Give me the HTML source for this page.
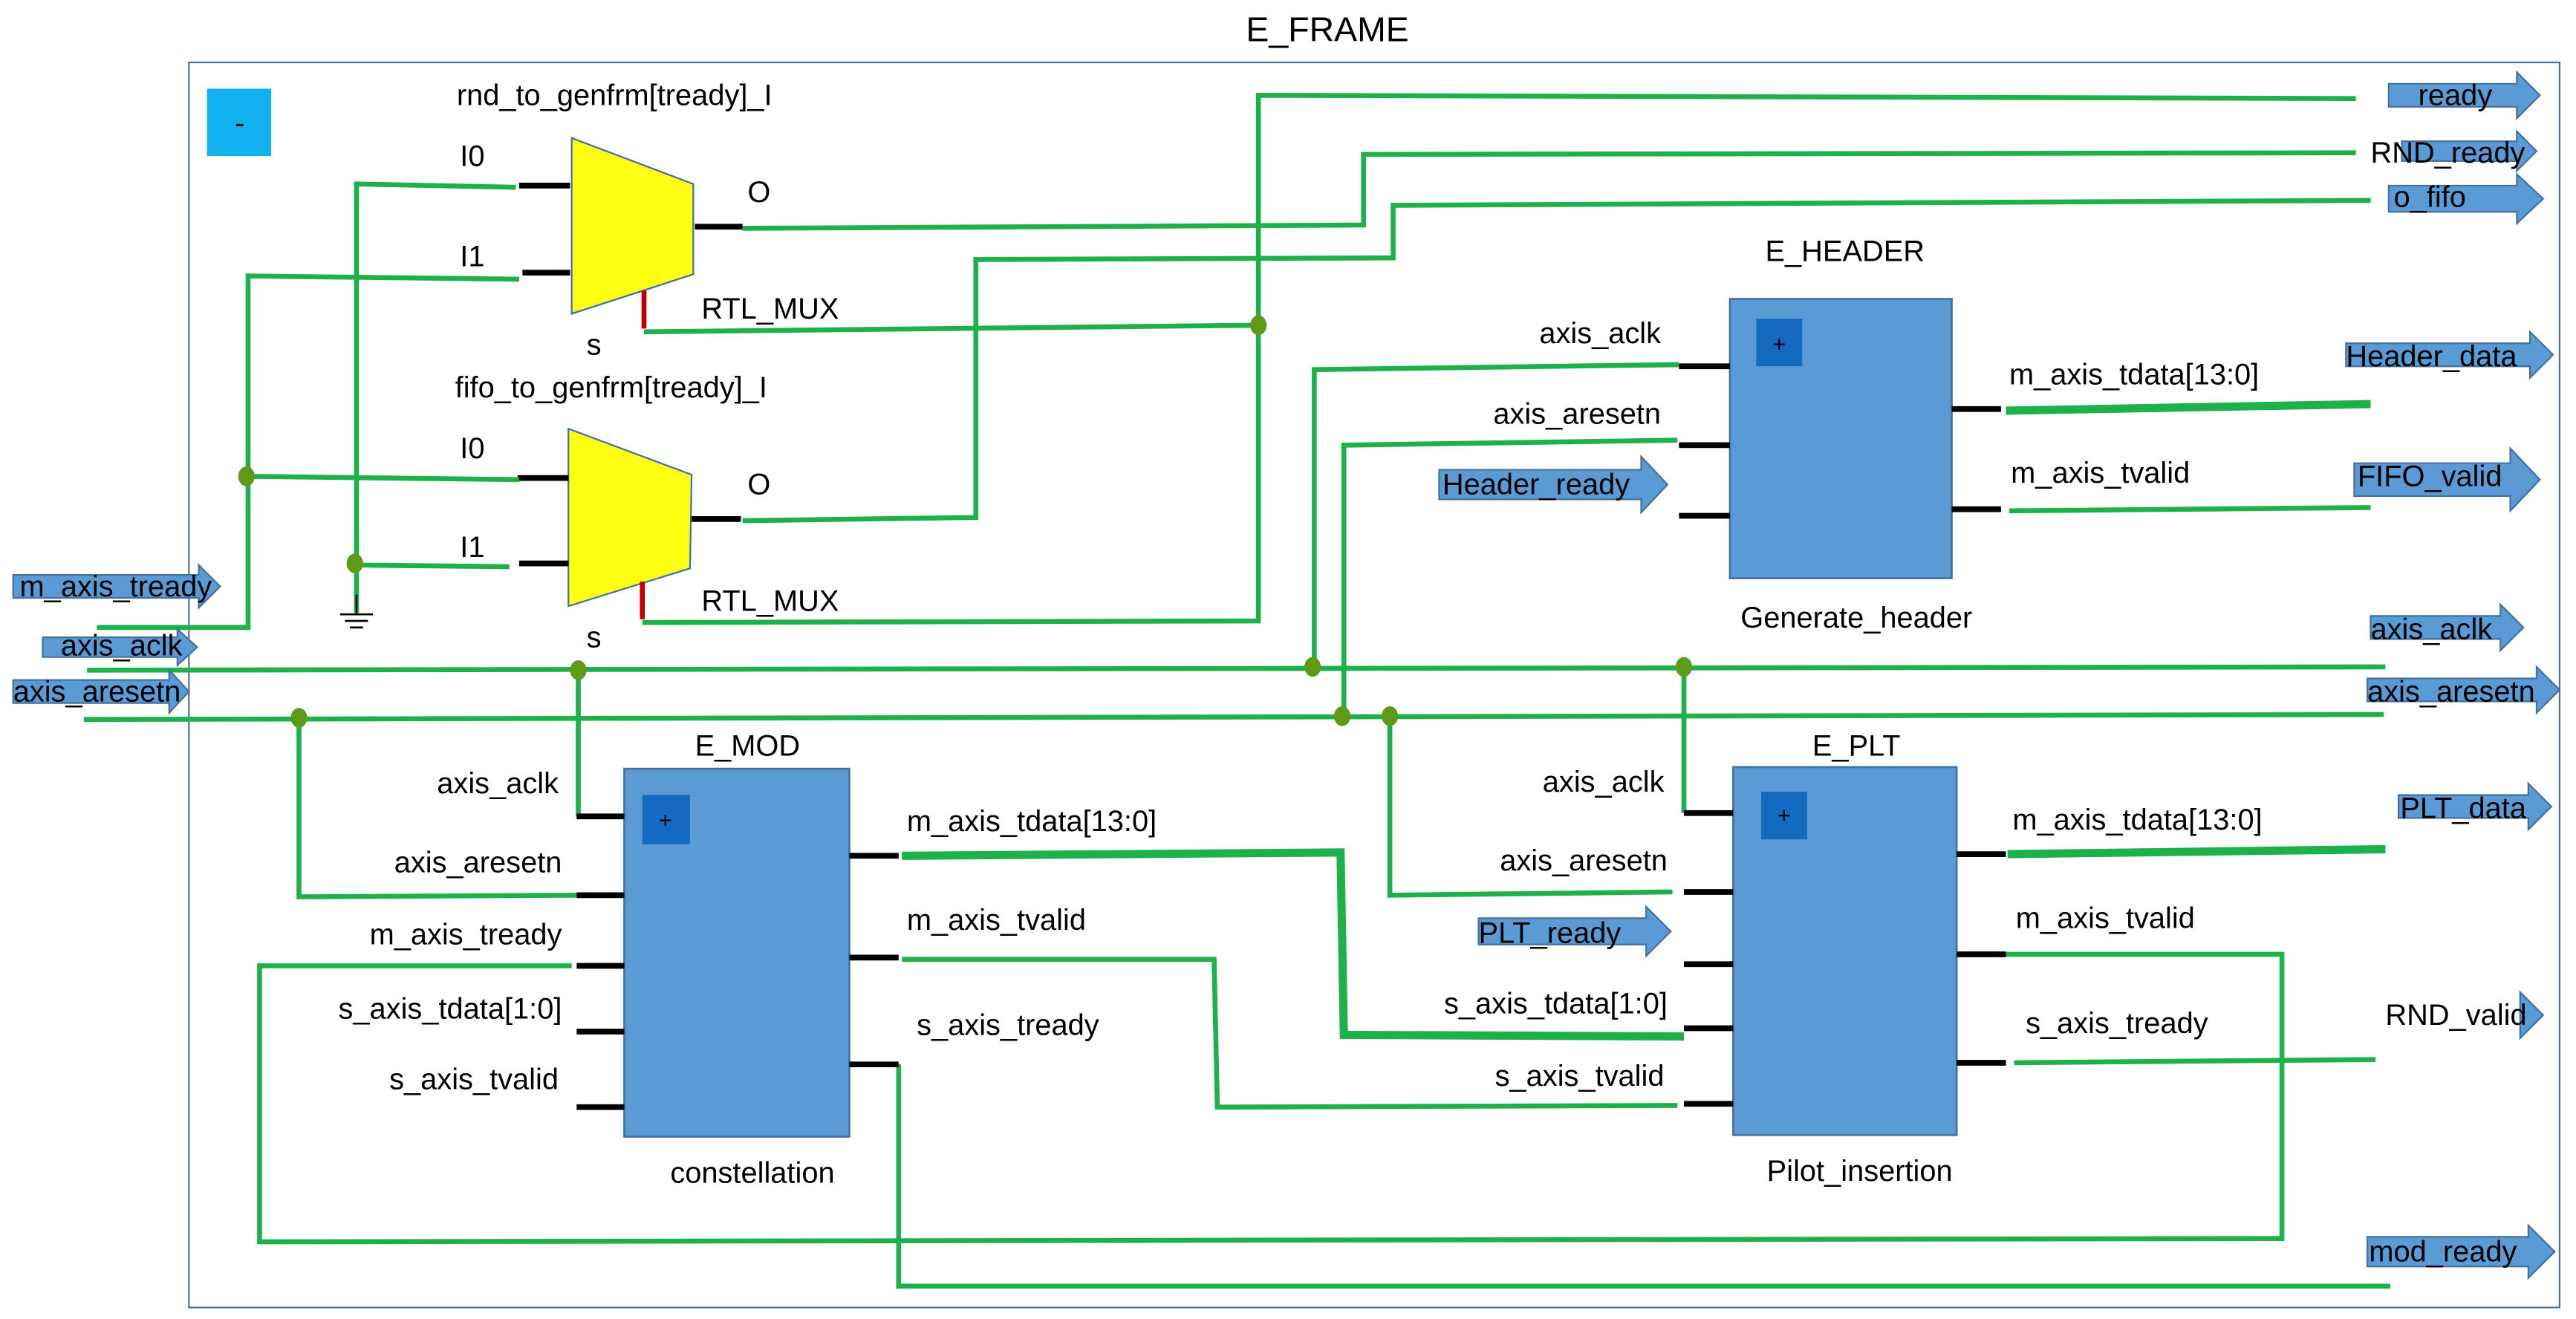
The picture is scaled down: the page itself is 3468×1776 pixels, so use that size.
<!DOCTYPE html>
<html><head><meta charset="utf-8"><style>
html,body{margin:0;padding:0;background:#fff;}
svg{display:block;}
text{font-family:"Liberation Sans Narrow","Liberation Sans",sans-serif;fill:#000;}
</style></head><body>
<svg width="3468" height="1776" viewBox="0 0 1568 803" preserveAspectRatio="none" xmlns="http://www.w3.org/2000/svg">
<rect x="0" y="0" width="1568" height="803" fill="#fff"/>
<text x="808" y="25" font-size="21" text-anchor="middle">E_FRAME</text>
<rect x="115" y="38" width="1443" height="758" fill="none" stroke="#4a72a8" stroke-width="1"/>
<rect x="126" y="54" width="39" height="41" fill="#11b0ee"/>
<text x="146" y="81" font-size="18" text-anchor="middle">-</text>

<!-- muxes -->
<polygon points="348,84 422,112 422,167 348,191" fill="#ffff14" stroke="#3d6fa8" stroke-width="1"/>
<polygon points="346,261 421,289 420,346 346,369" fill="#ffff14" stroke="#3d6fa8" stroke-width="1"/>
<g stroke="#000" stroke-width="3.5">
<line x1="316" y1="113" x2="347" y2="113"/><line x1="318" y1="166" x2="347" y2="166"/><line x1="423" y1="138" x2="452" y2="138"/>
<line x1="315" y1="291" x2="346" y2="291"/><line x1="316" y1="343" x2="346" y2="343"/><line x1="421" y1="316" x2="451" y2="316"/>
</g>
<g stroke="#c00000" stroke-width="3"><line x1="392" y1="177" x2="392" y2="200"/><line x1="391" y1="354" x2="391" y2="377"/></g>
<g font-size="18">
<text x="278" y="64">rnd_to_genfrm[tready]_I</text>
<text x="280" y="101">I0</text><text x="455" y="123">O</text><text x="280" y="162">I1</text>
<text x="427" y="194">RTL_MUX</text><text x="357" y="216">s</text>
<text x="277" y="242">fifo_to_genfrm[tready]_I</text>
<text x="280" y="279">I0</text><text x="455" y="301">O</text><text x="280" y="339">I1</text>
<text x="427" y="372">RTL_MUX</text><text x="357" y="394">s</text>
</g>

<!-- green wires -->
<g fill="none" stroke="#1db14b" stroke-width="3" stroke-linejoin="miter">
<polyline points="314,114 217,112 217,373"/>
<line x1="217" y1="344" x2="310" y2="345"/>
<polyline points="316,170 151,168 151,382 59,382"/>
<line x1="151" y1="290" x2="316" y2="292"/>
<polyline points="452,139 830,137 830,94 1434,93"/>
<polyline points="452,317 594,315 594,158 848,157 848,125 1443,122"/>
<polyline points="1434,60 766,58 766,378 391,379"/>
<line x1="392" y1="202" x2="766" y2="198"/>
<line x1="53" y1="408" x2="1452" y2="406"/>
<line x1="51" y1="438" x2="1451" y2="435"/>
<polyline points="352,408 352,497 351,497"/>
<polyline points="182,437 182,546 351,545"/>
<polyline points="348,588 158,588 158,756 1389,754 1389,581 1219,581"/>
<polyline points="549,584 739,584 741,674 1021,673"/>
<polyline points="547,648 547,783 1455,783"/>
<polyline points="1025,407 1025,495"/>
<polyline points="846,436 846,545 1018,543"/>
<polyline points="800,406 800,225 1022,222"/>
<polyline points="818,436 818,271 1021,268"/>
<line x1="1223" y1="311" x2="1443" y2="309"/>
<line x1="1226" y1="647" x2="1446" y2="645"/>
</g>
<g fill="none" stroke="#1db14b" stroke-width="5">
<line x1="1221" y1="250" x2="1443" y2="246"/>
<polyline points="549,521 816,519 818,630 1025,631"/>
<line x1="1222" y1="520" x2="1452" y2="517"/>
</g>
<!-- ground -->
<g stroke="#000" stroke-width="1.2"><line x1="217" y1="362" x2="217" y2="374"/><line x1="207" y1="374" x2="227" y2="374"/><line x1="210" y1="378" x2="224" y2="378"/><line x1="213" y1="382" x2="221" y2="382"/></g>
<!-- nodes -->
<g fill="#5d9a18">
<ellipse cx="216" cy="343" rx="5" ry="6"/><ellipse cx="150" cy="290" rx="5" ry="6"/><ellipse cx="766" cy="198" rx="5" ry="6"/>
<ellipse cx="352" cy="408" rx="5" ry="6"/><ellipse cx="182" cy="437" rx="5" ry="6"/>
<ellipse cx="799" cy="406" rx="5" ry="6"/><ellipse cx="817" cy="436" rx="5" ry="6"/><ellipse cx="846" cy="436" rx="5" ry="6"/><ellipse cx="1025" cy="406" rx="5" ry="6"/>
</g>

<!-- blocks -->
<g fill="#5b9bd5" stroke="#41719c" stroke-width="1.2">
<rect x="1053" y="182" width="135" height="170"/>
<rect x="380" y="468" width="137" height="224"/>
<rect x="1055" y="467" width="136" height="224"/>
</g>
<g fill="#1469c0">
<rect x="1069" y="194" width="28" height="29"/><rect x="391" y="484" width="29" height="30"/><rect x="1072" y="482" width="28" height="29"/>
</g>
<g font-size="14" text-anchor="middle"><text x="1083" y="214">+</text><text x="405" y="504">+</text><text x="1086" y="501">+</text></g>
<g stroke="#000" stroke-width="3.5">
<line x1="1022" y1="223" x2="1053" y2="223"/><line x1="1022" y1="271" x2="1053" y2="271"/><line x1="1022" y1="314" x2="1053" y2="314"/>
<line x1="1188" y1="249" x2="1218" y2="249"/><line x1="1188" y1="310" x2="1218" y2="310"/>
<line x1="351" y1="497" x2="380" y2="497"/><line x1="351" y1="545" x2="380" y2="545"/><line x1="351" y1="588" x2="380" y2="588"/><line x1="351" y1="628" x2="380" y2="628"/><line x1="351" y1="674" x2="380" y2="674"/>
<line x1="517" y1="521" x2="547" y2="521"/><line x1="517" y1="583" x2="547" y2="583"/><line x1="517" y1="648" x2="547" y2="648"/>
<line x1="1025" y1="495" x2="1055" y2="495"/><line x1="1025" y1="543" x2="1055" y2="543"/><line x1="1025" y1="587" x2="1055" y2="587"/><line x1="1025" y1="626" x2="1055" y2="626"/><line x1="1025" y1="672" x2="1055" y2="672"/>
<line x1="1191" y1="520" x2="1221" y2="520"/><line x1="1191" y1="581" x2="1221" y2="581"/><line x1="1191" y1="647" x2="1221" y2="647"/>
</g>

<!-- arrows -->
<g fill="#5b9bd5" stroke="#41719c" stroke-width="1">
<polygon points="1454,51 1532,51 1532,44 1546,58 1532,72 1532,65 1454,65"/>
<polygon points="1462,86 1532,86 1532,80 1544,92 1532,104 1532,98 1462,98"/>
<polygon points="1454,113 1532,113 1532,106 1548,121 1532,136 1532,129 1454,129"/>
<polygon points="1428,209 1540,209 1540,202 1554,216 1540,230 1540,223 1428,223"/>
<polygon points="1433,282 1528,282 1528,273 1546,292 1528,311 1528,302 1433,302"/>
<polygon points="1443,375 1522,375 1522,368 1536,382 1522,396 1522,389 1443,389"/>
<polygon points="1441,413 1544,413 1544,406 1558,420 1544,434 1544,427 1441,427"/>
<polygon points="1460,484 1539,484 1539,477 1553,491 1539,505 1539,498 1460,498"/>
<polygon points="1534,604 1548,618 1534,632"/>
<polygon points="1441,753 1539,753 1539,746 1555,762 1539,778 1539,771 1441,771"/>
<polygon points="876,286 999,286 999,278 1015,295 999,312 999,304 876,304"/>
<polygon points="900,559 1002,559 1002,552 1017,567 1002,582 1002,575 900,575"/>
<polygon points="8,350 121,350 121,344 134,357 121,370 121,364 8,364"/>
<polygon points="26,388 108,388 108,383 120,394 108,405 108,400 26,400"/>
<polygon points="8,414 103,414 103,408 115,421 103,434 103,428 8,428"/>
</g>
<g font-size="18">
<text x="1472" y="64">ready</text>
<text x="1443" y="99">RND_ready</text>
<text x="1457" y="126">o_fifo</text>
<text x="1428" y="223">Header_data</text>
<text x="1435" y="296">FIFO_valid</text>
<text x="1443" y="389">axis_aclk</text>
<text x="1441" y="427">axis_aresetn</text>
<text x="1461" y="498">PLT_data</text>
<text x="1452" y="624">RND_valid</text>
<text x="1442" y="768">mod_ready</text>
<text x="878" y="301">Header_ready</text>
<text x="900" y="574">PLT_ready</text>
<text x="12" y="363">m_axis_tready</text>
<text x="37" y="399">axis_aclk</text>
<text x="8" y="427">axis_aresetn</text>

<text x="1123" y="159" text-anchor="middle">E_HEADER</text>
<text x="1011" y="209" text-anchor="end">axis_aclk</text>
<text x="1011" y="258" text-anchor="end">axis_aresetn</text>
<text x="1130" y="382" text-anchor="middle">Generate_header</text>
<text x="1223" y="234">m_axis_tdata[13:0]</text>
<text x="1224" y="294">m_axis_tvalid</text>

<text x="455" y="460" text-anchor="middle">E_MOD</text>
<text x="340" y="483" text-anchor="end">axis_aclk</text>
<text x="342" y="531" text-anchor="end">axis_aresetn</text>
<text x="342" y="575" text-anchor="end">m_axis_tready</text>
<text x="342" y="620" text-anchor="end">s_axis_tdata[1:0]</text>
<text x="340" y="663" text-anchor="end">s_axis_tvalid</text>
<text x="458" y="720" text-anchor="middle">constellation</text>
<text x="552" y="506">m_axis_tdata[13:0]</text>
<text x="552" y="566">m_axis_tvalid</text>
<text x="558" y="630">s_axis_tready</text>

<text x="1130" y="460" text-anchor="middle">E_PLT</text>
<text x="1013" y="482" text-anchor="end">axis_aclk</text>
<text x="1015" y="530" text-anchor="end">axis_aresetn</text>
<text x="1015" y="617" text-anchor="end">s_axis_tdata[1:0]</text>
<text x="1013" y="661" text-anchor="end">s_axis_tvalid</text>
<text x="1132" y="719" text-anchor="middle">Pilot_insertion</text>
<text x="1225" y="505">m_axis_tdata[13:0]</text>
<text x="1227" y="565">m_axis_tvalid</text>
<text x="1233" y="629">s_axis_tready</text>
</g>
</svg>
</body></html>
